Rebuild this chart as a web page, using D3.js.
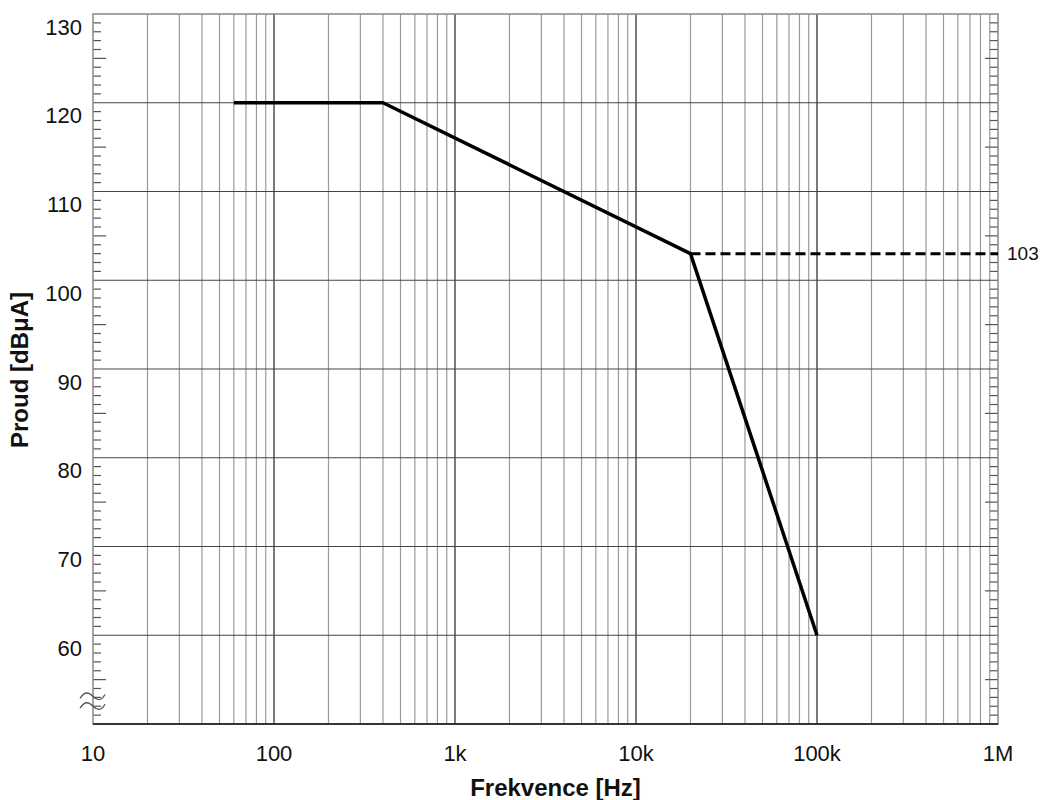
<!DOCTYPE html>
<html>
<head>
<meta charset="utf-8">
<script src="https://cdn.jsdelivr.net/npm/d3@7"></script>
<style>
  body { margin: 0; background: #fff; }
  text { font-family: "Liberation Sans", Arial, sans-serif; fill: #111; }
</style>
</head>
<body>
<svg id="chart" width="1042" height="800"></svg>
<script>
// Limit curve (frequency in Hz, current in dBuA)
const limitFreq = [60, 400, 20000, 100000];
const limitLevel = [120, 120, 103, 60];
// Dashed continuation
const dashFreq = [20000, 1000000];
const dashLevel = [103, 103];
const dashLabel = '103';

const xTickValues = [10, 100, 1000, 10000, 100000, 1000000];
const xTickLabels = ['10', '100', '1k', '10k', '100k', '1M'];
const yTickValues = [60, 70, 80, 90, 100, 110, 120, 130];

const svg = d3.select('#chart');
const margin = { top: 14, right: 44, bottom: 76, left: 93 };
const width = 1042 - margin.left - margin.right;
const height = 800 - margin.top - margin.bottom;

const g = svg.append('g')
  .attr('transform', `translate(${margin.left},${margin.top})`);

// Set the ranges
const x = d3.scaleLog().domain([10, 1e6]).range([0, width]);
const y = d3.scaleLinear().domain([50, 130]).range([height, 0]);

// Vertical grid: 1..9 of every decade
const minorFreq = [];
for (let dec = 10; dec < 1e6; dec *= 10) {
  for (let m = 2; m <= 9; m += 1) minorFreq.push(dec * m);
}
g.selectAll('line.vminor')
  .data(minorFreq)
  .enter().append('line')
  .attr('x1', d => x(d)).attr('x2', d => x(d))
  .attr('y1', 0).attr('y2', height)
  .attr('stroke', '#9a9a9a')
  .attr('stroke-width', 1.2);

g.selectAll('line.vmajor')
  .data(xTickValues.slice(1, -1))
  .enter().append('line')
  .attr('x1', d => x(d)).attr('x2', d => x(d))
  .attr('y1', 0).attr('y2', height)
  .attr('stroke', '#222')
  .attr('stroke-width', 1.2);

// Horizontal grid every 10 dB
g.selectAll('line.hgrid')
  .data(yTickValues.slice(0, -1))
  .enter().append('line')
  .attr('x1', 0).attr('x2', width)
  .attr('y1', d => y(d)).attr('y2', d => y(d))
  .attr('stroke', '#444')
  .attr('stroke-width', 1.2);

// 1 dB ticks on both sides, longer every 5 dB
const dbTicks = d3.range(51, 130);
['left', 'right'].forEach((side) => {
  g.selectAll(`line.tick-${side}`)
    .data(dbTicks.filter(d => d % 10 !== 0))
    .enter().append('line')
    .attr('x1', side === 'left' ? 0 : width)
    .attr('x2', d => {
      const len = d % 5 === 0 ? 13 : 8;
      return side === 'left' ? len : width - len;
    })
    .attr('y1', d => y(d)).attr('y2', d => y(d))
    .attr('stroke', '#555')
    .attr('stroke-width', 1.2);
});

// Frame
g.append('rect')
  .attr('width', width).attr('height', height)
  .attr('fill', 'none')
  .attr('stroke', '#888')
  .attr('stroke-width', 1.5);
g.append('line')
  .attr('x1', 0).attr('x2', width)
  .attr('y1', height).attr('y2', height)
  .attr('stroke', '#111')
  .attr('stroke-width', 1.5);

// Axis break symbol
[52, 53.1].forEach((v) => {
  const yy = y(v);
  g.append('path')
    .attr('d', `M-13,${yy + 2} C-8,${yy - 6} -4,${yy - 4} 0,${yy} S8,${yy + 5} 12,${yy - 2}`)
    .attr('fill', 'none')
    .attr('stroke', '#555')
    .attr('stroke-width', 1.3);
});

// Tick labels
g.selectAll('text.xlab')
  .data(xTickValues)
  .enter().append('text')
  .attr('x', d => x(d))
  .attr('y', height + 37)
  .attr('text-anchor', 'middle')
  .style('font-size', '22px')
  .text((d, i) => xTickLabels[i]);

g.selectAll('text.ylab')
  .data(yTickValues)
  .enter().append('text')
  .attr('x', -11)
  .attr('y', d => y(d) + 13)
  .attr('dy', '0.35em')
  .attr('text-anchor', 'end')
  .style('font-size', '22px')
  .text(d => d);

// Axis titles
svg.append('text')
  .attr('x', margin.left + width / 2 + 10)
  .attr('y', 796)
  .attr('text-anchor', 'middle')
  .style('font-size', '24px')
  .style('font-weight', 'bold')
  .text('Frekvence [Hz]');

svg.append('text')
  .attr('transform', 'translate(28, 370) rotate(-90)')
  .attr('text-anchor', 'middle')
  .style('font-size', '24px')
  .style('font-weight', 'bold')
  .text('Proud [dBμA]');

// The limit lines
const line = d3.line()
  .x(d => x(d[0]))
  .y(d => y(d[1]));

g.append('path')
  .datum(dashFreq.map((f, i) => [f, dashLevel[i]]))
  .attr('d', line)
  .attr('fill', 'none')
  .attr('stroke', '#000')
  .attr('stroke-width', 3)
  .attr('stroke-dasharray', '10,5');

g.append('path')
  .datum(limitFreq.map((f, i) => [f, limitLevel[i]]))
  .attr('d', line)
  .attr('fill', 'none')
  .attr('stroke', '#000')
  .attr('stroke-width', 3.5)
  .attr('stroke-linejoin', 'round');

g.append('text')
  .attr('x', width + 9)
  .attr('y', y(dashLevel[1]))
  .attr('dy', '0.35em')
  .style('font-size', '19px')
  .text(dashLabel);
</script>
</body>
</html>
